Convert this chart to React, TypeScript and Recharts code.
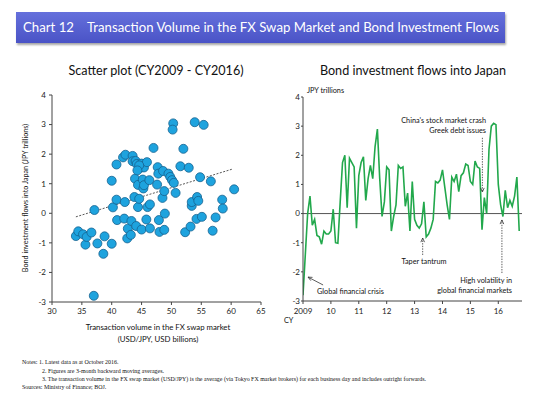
import {
  ScatterChart,
  Scatter,
  LineChart,
  Line,
  XAxis,
  YAxis,
  ReferenceLine,
} from "recharts";

// scatter: FX swap volume (USD bn) vs bond flows (JPY tn)
const swapVolume = [
  34.0, 34.4, 35.2, 35.6, 35.8, 36.6, 37.1, 37.0, 37.6, 38.6, 38.8, 40.0, 40.0, 40.2, 40.8, 40.8,
  40.9, 41.9, 42.3, 42.2, 42.1, 42.6, 42.7, 43.2, 43.3, 43.5, 43.5, 43.9, 43.8, 44.0, 44.1, 44.2,
  44.4, 44.4, 44.6, 44.8, 45.0, 45.0, 45.2, 45.3, 45.4, 45.4, 45.8, 45.9, 46.0, 46.3, 46.4, 46.4,
  47.0, 47.6, 47.7, 47.8, 47.9, 48.0, 48.5, 48.6, 48.8, 48.9, 48.8, 49.5, 49.8, 50.1, 50.3, 50.2,
  50.4, 50.7, 51.5, 52.0, 52.3, 52.9, 53.2, 53.4, 53.4, 53.9, 54.2, 54.3, 54.5, 54.8, 55.1, 55.4,
  56.6, 56.9, 57.4, 58.5, 58.6, 60.5, 44.6, 44.3,
];
const bondFlows = [
  -0.77, -0.61, -0.71, -1.06, -0.8, -0.65, 0.11, -2.79, -1.02, -1.37, -0.78, -1.03, 1.1, 0.2, 1.65, 0.46,
  -0.23, 1.89, 1.98, 0.38, -0.18, -0.85, -0.52, -0.73, -0.26, 1.94, 1.76, 1.17, 0.55, 1.77, -0.43, 1.67,
  0.96, 0.21, 0.49, 1.54, -0.55, 1.68, 1.14, 0.84, 1.55, 0.95, -0.21, 1.73, 0.21, 1.12, 0.3, -0.51,
  2.21, 0.97, 1.56, 1.34, -0.23, -0.63, 0.52, 1.43, 0.75, -0.01, -0.56, 1.34, 1.23, 1.12, 3.04, 2.83,
  1.03, 0.69, 1.59, 2.18, -0.64, 1.54, -0.45, 0.25, 0.38, 3.08, -0.19, 0.55, 0.42, 1.22, -0.12, 2.99,
  1.08, -0.59, -0.14, 0.46, 0.16, 0.81, 1.62, 1.45,
];
const trendX = [34.0, 60.3];
const trendY = [-0.12, 1.5];
const scatterXTicks = [30, 35, 40, 45, 50, 55, 60, 65];
const valueTicks = [-3, -2, -1, 0, 1, 2, 3, 4];

// monthly bond investment flows, Jan 2009 - Oct 2016
const firstYear = 2009;
const monthlyFlows = [
  -2.8, -1.4, 0.0, 0.6, -0.4, -0.2, -0.75, -0.8, -1.05, -0.6, -0.7, -0.7,
  -0.6, 0.15, -1.0, -1.02, 0.4, 1.75, 2.0, 0.2, 1.9, 1.75, 1.6, -0.5,
  1.3, 1.75, 1.95, 0.45, 1.2, 1.65, 1.2, 2.3, 2.9, 1.2, -0.1, 0.4,
  1.6, 1.5, -0.6, -0.1, 0.3, 1.65, 1.55, 1.6, 0.25, 0.7, -0.6, 1.1,
  -0.2, -0.4, -0.5, -0.35, 0.4, -0.8, -0.7, -0.5, -0.2, 1.1, 1.05, 1.15,
  1.5, 0.9, 0.3, -0.2, 1.25, 1.1, 1.35, 0.75, 1.3, 1.4, 1.7, 1.65,
  1.1, 1.0, 1.8, 1.6, 1.55, -0.55, 0.55, 0.0, 2.2, 3.0, 3.1, 3.05,
  1.0, 0.3, -0.1, 0.8, 0.2, 0.45, 0.25, 0.6, 1.25, -0.6,
];
const yearTicks = [2009, 2010, 2011, 2012, 2013, 2014, 2015, 2016];

// annotation arrows: [tail, head] in data units
const eventArrows = [
  { from: { x: 2009.72, y: -2.45 }, to: { x: 2009.18, y: -2.18 }, dashed: false },
  { from: { x: 2013.29, y: -1.42 }, to: { x: 2013.29, y: -0.84 }, dashed: true },
  { from: { x: 2015.43, y: 2.6 }, to: { x: 2015.43, y: 0.74 }, dashed: true },
  { from: { x: 2016.13, y: -2.04 }, to: { x: 2016.13, y: -0.22 }, dashed: true },
];

const scatterData = swapVolume.map((x, i) => ({ x, y: bondFlows[i] }));
const lineData = monthlyFlows.map((v, i) => ({ t: firstYear + i / 12, v }));

const FONT = "Lato, 'Open Sans', sans-serif";
const tickStyle = { fontSize: 8, fill: "#222", fontFamily: FONT };
const frame = "#8a8a8a";

const Dot = (p: any) => (
  <circle cx={p.cx} cy={p.cy} r={4.5} fill="#1ea3de" stroke="#17628f" strokeWidth={0.8} />
);

const arrowShape = (dashed: boolean) => (p: any) => {
  const { x1, y1, x2, y2 } = p;
  const ang = Math.atan2(y2 - y1, x2 - x1);
  const len = 4.5;
  const a1 = ang + Math.PI - 0.42;
  const a2 = ang + Math.PI + 0.42;
  return (
    <g>
      <line x1={x1} y1={y1} x2={x2} y2={y2} stroke="#333" strokeWidth={0.8} strokeDasharray={dashed ? "1.4 1.2" : undefined} />
      <path
        d={`M${x2 + len * Math.cos(a1)},${y2 + len * Math.sin(a1)} L${x2},${y2} L${x2 + len * Math.cos(a2)},${y2 + len * Math.sin(a2)}`}
        fill="none"
        stroke="#333"
        strokeWidth={0.8}
      />
    </g>
  );
};

const abs = (left: number, top: number, extra: any = {}) => ({
  position: "absolute" as const,
  left,
  top,
  whiteSpace: "nowrap" as const,
  ...extra,
});

const noteStyle = { fontFamily: "'Liberation Serif', 'Times New Roman', serif", fontSize: 5.95, color: "#111", lineHeight: 1 };
const annStyle = { fontFamily: FONT, fontSize: 7.3, color: "#111", lineHeight: 1 };

export default function App() {
  return (
    <div style={{ position: "absolute", left: 0, top: 0, width: 550, height: 396, background: "#fff", fontFamily: FONT, overflow: "hidden" }}>
      <div
        style={abs(16, 12, {
          width: 489,
          height: 31,
          background: "linear-gradient(#6570dc, #4a53c6)",
          boxShadow: "1px 2px 2px rgba(0,0,0,0.35)",
          color: "#fff",
          fontSize: 13.2,
          lineHeight: "31px",
          paddingLeft: 7,
          boxSizing: "border-box",
        })}
      >
        Chart 12&nbsp;&nbsp;&nbsp; Transaction Volume in the FX Swap Market and Bond Investment Flows
      </div>

      <div style={abs(0, 63, { width: 312, textAlign: "center", fontSize: 12.6, color: "#111" })}>
        Scatter plot (CY2009 - CY2016)
      </div>
      <div style={abs(275, 63, { width: 276, textAlign: "center", fontSize: 12.6, color: "#111" })}>
        Bond investment flows into Japan
      </div>

      {/* left: scatter */}
      <div style={abs(0, 0)}>
        <ScatterChart width={275} height={360} margin={{ top: 95, right: 14, bottom: 0, left: 0 }}>
          <XAxis
            type="number"
            dataKey="x"
            domain={[30, 65]}
            ticks={scatterXTicks}
            tick={tickStyle}
            tickSize={3}
            tickMargin={3}
            height={58}
            stroke="#444"
            interval={0}
          />
          <XAxis xAxisId="top" orientation="top" type="number" domain={[30, 65]} tick={false} tickLine={false} height={0} stroke={frame} />
          <YAxis
            type="number"
            dataKey="y"
            domain={[-3, 4]}
            ticks={valueTicks}
            tick={tickStyle}
            tickSize={3}
            tickMargin={3}
            width={52}
            stroke="#444"
            interval={0}
          />
          <YAxis yAxisId="right" orientation="right" type="number" domain={[-3, 4]} tick={false} tickLine={false} width={0} stroke={frame} />
          <ReferenceLine
            segment={[
              { x: trendX[0], y: trendY[0] },
              { x: trendX[1], y: trendY[1] },
            ]}
            stroke="#444"
            strokeWidth={0.9}
            strokeDasharray="2 1.5"
          />
          <Scatter data={scatterData} shape={Dot} isAnimationActive={false} />
        </ScatterChart>
      </div>
      <div style={abs(26, 198, { ...annStyle, fontSize: 7.2, transform: "translate(-50%, -50%) rotate(-90deg)" })}>
        Bond investment flows into Japan (JPY trillions)
      </div>
      <div style={abs(58, 324, { ...annStyle, fontSize: 7.8, width: 200, textAlign: "center" })}>
        Transaction volume in the FX swap market
      </div>
      <div style={abs(58, 336, { ...annStyle, fontSize: 7.8, width: 200, textAlign: "center" })}>
        (USD/JPY, USD billions)
      </div>

      {/* right: monthly line */}
      <div style={abs(275, 0)}>
        <LineChart width={275} height={360} data={lineData} margin={{ top: 97, right: 28, bottom: 0, left: 0 }}>
          <XAxis
            type="number"
            dataKey="t"
            domain={[2009, 2016.85]}
            ticks={yearTicks}
            tickFormatter={(v: number) => (v === 2009 ? "2009" : String(v).slice(2))}
            tick={tickStyle}
            tickSize={3}
            tickMargin={4}
            height={59}
            stroke="#444"
            interval={0}
            allowDataOverflow
          />
          <XAxis xAxisId="top" orientation="top" type="number" domain={[2009, 2016.85]} tick={false} tickLine={false} height={0} stroke={frame} />
          <YAxis
            type="number"
            domain={[-3, 4]}
            ticks={valueTicks}
            tick={tickStyle}
            tickSize={2}
            tickMargin={1}
            width={28}
            stroke="#444"
            interval={0}
          />
          <YAxis yAxisId="right" orientation="right" type="number" domain={[-3, 4]} tick={false} tickLine={false} width={0} stroke={frame} />
          <ReferenceLine y={0} stroke="#555" strokeWidth={1} />
          <Line dataKey="v" type="linear" stroke="#22a84c" strokeWidth={1.6} dot={false} isAnimationActive={false} />
          {eventArrows.map((a, i) => (
            <ReferenceLine key={i} segment={[a.from, a.to]} shape={arrowShape(a.dashed)} />
          ))}
        </LineChart>
      </div>
      <div style={abs(307, 87, annStyle)}>JPY trillions</div>
      <div style={abs(284, 317, annStyle)}>CY</div>
      <div style={abs(386, 117, { ...annStyle, width: 100, textAlign: "right" })}>China's stock market crash</div>
      <div style={abs(386, 127, { ...annStyle, width: 100, textAlign: "right" })}>Greek debt issues</div>
      <div style={abs(374, 258, { ...annStyle, width: 100, textAlign: "center" })}>Taper tantrum</div>
      <div style={abs(412, 277, { ...annStyle, width: 100, textAlign: "right" })}>High volatility in</div>
      <div style={abs(412, 287, { ...annStyle, width: 100, textAlign: "right" })}>global financial markets</div>
      <div style={abs(317, 288, annStyle)}>Global financial crisis</div>

      {/* notes */}
      <div style={abs(22, 360, noteStyle)}>Notes: 1. Latest data as at October 2016.</div>
      <div style={abs(42, 369, noteStyle)}>2. Figures are 3-month backward moving averages.</div>
      <div style={abs(42, 377, noteStyle)}>
        3. The transaction volume in the FX swap market (USD/JPY) is the average (via Tokyo FX market brokers) for each business day and includes outright forwards.
      </div>
      <div style={abs(22, 385, noteStyle)}>Sources: Ministry of Finance; BOJ.</div>
    </div>
  );
}
